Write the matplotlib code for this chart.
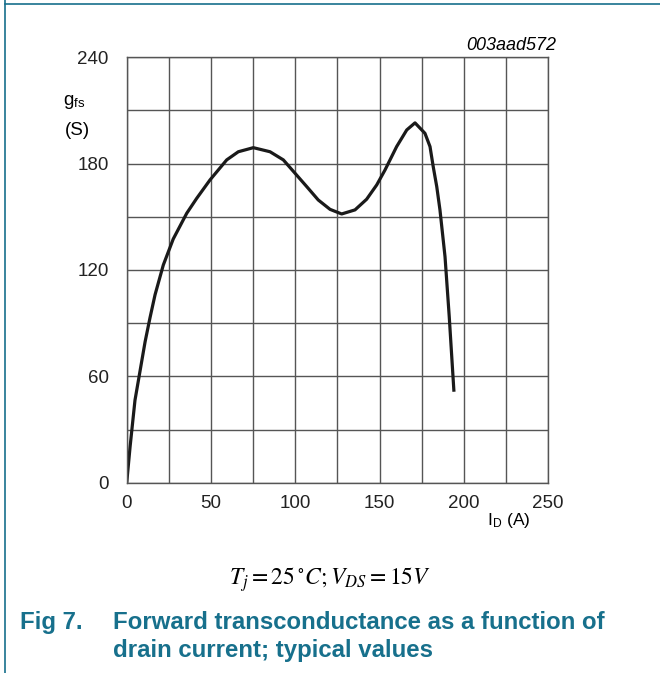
import numpy as np
import matplotlib.pyplot as plt
from matplotlib.lines import Line2D

# Data
drain_current = [0, 2.0, 4.9, 7.9, 10.9, 13.8, 16.8, 21.7, 27.6, 35.6, 41.5, 49.4,
                 59.3, 66.2, 75.1, 85.0, 92.9, 99.8, 106.8, 113.6, 120.6, 127.5,
                 135.4, 142.3, 148.3, 153.2, 160.1, 166.1, 171.0, 176.9, 179.9,
                 181.8, 183.9, 185.8, 188.8, 191.3, 194.1]
gfs = [0, 20.3, 46.5, 63.0, 79.5, 93.0, 106.0, 122.8, 137.5, 152.0, 160.4, 170.8,
       182.1, 186.7, 189.0, 186.7, 182.1, 174.6, 167.0, 159.5, 154.2, 151.6,
       153.9, 159.9, 168.0, 176.4, 189.6, 199.0, 203.0, 197.1, 189.6,
       178.3, 167.0, 153.9, 127.5, 93.7, 51.3]
x_ticks = [0, 25, 50, 75, 100, 125, 150, 175, 200, 225, 250]
x_labels = ['0', '', '50', '', '100', '', '150', '', '200', '', '250']
y_ticks = [0, 30, 60, 90, 120, 150, 180, 210, 240]
y_labels = ['0', '', '60', '', '120', '', '180', '', '240']

teal = '#17708c'
plt.rcParams['font.family'] = ['Liberation Sans', 'DejaVu Sans']
plt.rcParams['mathtext.fontset'] = 'stix'

fig = plt.figure(figsize=(6.6, 6.73), dpi=100)
ax = fig.add_axes([0.192, 0.2828, 0.6386, 0.6321])

ax.plot(drain_current, gfs, color='#1a1a1a', lw=2.3, solid_capstyle='butt',
        solid_joinstyle='round')

ax.set_xlim(0, 250)
ax.set_ylim(0, 240)
ax.set_xticks(x_ticks)
ax.set_xticklabels(x_labels)
ax.set_yticks(y_ticks)
ax.set_yticklabels(y_labels)
ax.tick_params(length=0, labelsize=13.5, colors='#222222')
ax.tick_params(axis='x', pad=9)
ax.tick_params(axis='y', pad=13)
ax.grid(True, color='#555555', lw=1.0)
for s in ax.spines.values():
    s.set_color('#555555')
    s.set_linewidth(1.0)

# axis labels placed as in the datasheet
fig.text(0.095, 0.848, r'g$_{\mathregular{fs}}$', fontsize=13.5, ha='left', va='center')
fig.text(0.099, 0.806, '(S)', fontsize=13.5, ha='left', va='center')
fig.text(0.738, 0.226, r'I$_{\mathregular{D}}$ (A)', fontsize=12.5, ha='left', va='center')
fig.text(0.843, 0.933, '003aad572', fontsize=13, style='italic', ha='right', va='center')

fig.text(0.5, 0.139, r'$T_j = 25\,^{\circ}C;V_{DS} = 15V$', fontsize=17, ha='center', va='center')
fig.text(0.03, 0.075, 'Fig 7.', fontsize=17.3, fontweight='bold', color=teal, va='center')
fig.text(0.171, 0.075, 'Forward transconductance as a function of', fontsize=17.3,
         fontweight='bold', color=teal, va='center')
fig.text(0.171, 0.033, 'drain current; typical values', fontsize=17.3,
         fontweight='bold', color=teal, va='center')

# page frame lines
fig.add_artist(Line2D([5 / 660, 5 / 660], [0, 1], color=teal, lw=1.2))
fig.add_artist(Line2D([5 / 660, 1], [1 - 4 / 673, 1 - 4 / 673], color=teal, lw=1.2))

fig.savefig('out.png', dpi=100)
